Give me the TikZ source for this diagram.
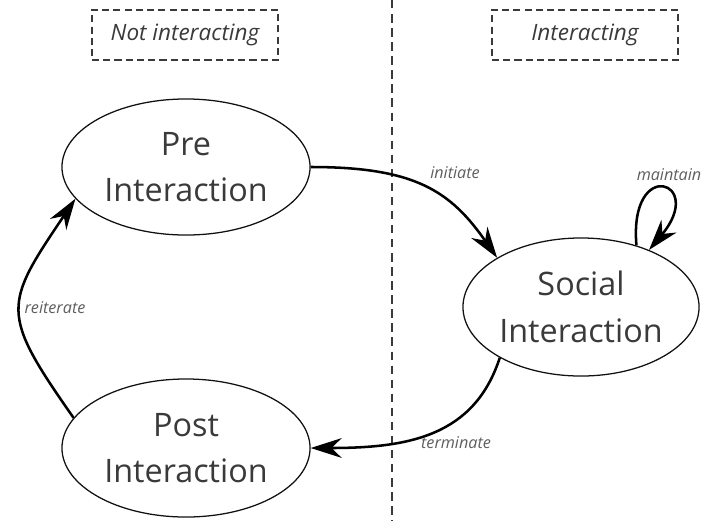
\documentclass[tikz,border=0pt]{standalone}
\usepackage{fontspec}
\setmainfont{Open Sans}
\usepackage{xcolor}
\usetikzlibrary{shapes.geometric,arrows.meta}
\definecolor{ink}{HTML}{3A3A3A}
\definecolor{edgeink}{HTML}{111111}
\definecolor{softink}{HTML}{5E5E5E}
\definecolor{dashink}{HTML}{3A3A3A}

\begin{document}
\begin{tikzpicture}[x=0.025cm,y=-0.025cm,
    state/.style={draw=edgeink,ellipse,line width=0.9pt,align=center,inner sep=0pt,text=ink,font=\fontsize{23}{33}\selectfont},
    phasebox/.style={draw=dashink,line width=1pt,dash pattern=on 5pt off 3pt,minimum width=4.65cm,minimum height=1.25cm,text=ink,font=\fontsize{16}{19}\selectfont\itshape},
    divider/.style={draw=dashink,line width=1.2pt,dash pattern=on 6pt off 4pt},
    transition/.style={draw=black,line width=1.8pt,-{Stealth[length=22pt,width=14pt]}},
    action/.style={text=softink,font=\fontsize{11.5}{14}\selectfont\itshape}
]
\useasboundingbox (0,0) rectangle (701,521);
\coordinate (divtop) at (392,0);
\coordinate (divbot) at (392,521);
\draw[divider] (divtop) -- (divbot);
\node[phasebox] (notbox) at (185,35) {Not interacting};
\node[phasebox] (intbox) at (585,35) {Interacting};
\node[state,minimum width=6.2cm,minimum height=3.4cm] (pre) at (186,167) {Pre\\Interaction};
\node[state,minimum width=5.9cm,minimum height=3.45cm] (social) at (581,307) {Social\\Interaction};
\node[state,minimum width=6.2cm,minimum height=3.45cm] (post) at (186,448) {Post\\Interaction};
\draw[transition] (pre.east) to[out=0,in=125,out looseness=1.3] (social.north west);
\draw[transition] (social.48) to[out=95,in=50,distance=2.25cm] (social.40);
\draw[transition] (social.212) to[out=252,in=0,in looseness=1.2] (post.east);
\draw[transition] (post.165) to[out=125,in=236,looseness=1.5] (pre.196);
\node[action] (initlbl) at (455,173) {initiate};
\node[action] (maintlbl) at (669,175) {maintain};
\node[action] (termlbl) at (456,443) {terminate};
\node[action] (reitlbl) at (55,308) {reiterate};
\end{tikzpicture}
\end{document}
